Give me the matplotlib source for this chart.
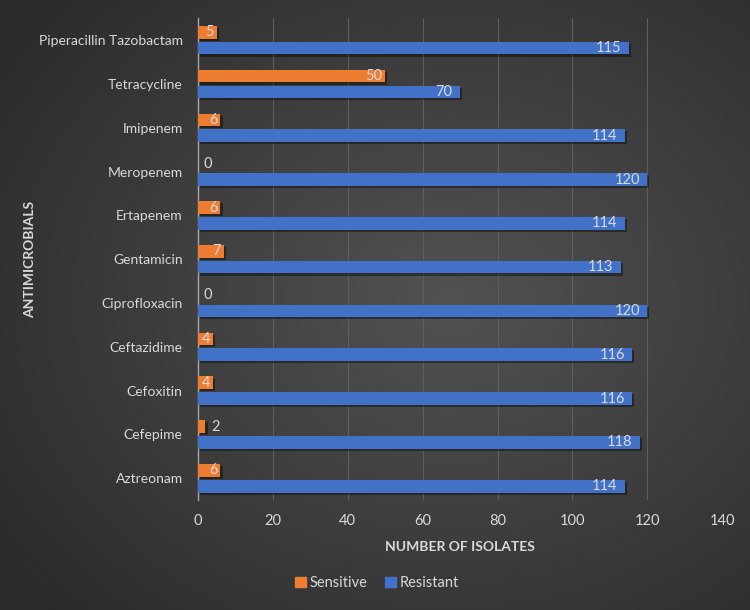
import numpy as np
import matplotlib
matplotlib.use("Agg")
import matplotlib.pyplot as plt
from matplotlib import patheffects as pe
from matplotlib.patches import Patch

categories = ["Piperacillin Tazobactam", "Tetracycline", "Imipenem", "Meropenem",
              "Ertapenem", "Gentamicin", "Ciprofloxacin", "Ceftazidime",
              "Cefoxitin", "Cefepime", "Aztreonam"]
sensitive = [5, 50, 6, 0, 6, 7, 0, 4, 4, 2, 6]
resistant = [115, 70, 114, 120, 114, 113, 120, 116, 116, 118, 114]
xticks = [0, 20, 40, 60, 80, 100, 120, 140]

plt.rcParams['font.family'] = ['Lato', 'DejaVu Sans']
txt = '#D9D9D9'
orange = '#ED7D31'
blue = '#4271C8'

fig = plt.figure(figsize=(7.5, 6.1), dpi=100)
# radial gradient background
bg = fig.add_axes([0, 0, 1, 1], zorder=-10)
yy, xx = np.mgrid[0:610, 0:750]
r = np.sqrt(((xx - 450) / 750.0) ** 2 + ((yy - 300) / 610.0) ** 2)
val = np.clip(1 - r / 0.75, 0, 1)
c0 = np.array([0x2a, 0x2a, 0x2a]) / 255
c1 = np.array([0x52, 0x52, 0x52]) / 255
img = c0[None, None, :] + (c1 - c0)[None, None, :] * val[:, :, None]
bg.imshow(img, aspect='auto', extent=[0, 1, 0, 1])
bg.axis('off')

ax = fig.add_axes([0.264, 0.180, 0.699, 0.790])
ax.set_facecolor('none')
n = len(categories)
ypos = np.arange(n)[::-1]
h = 0.29
off = h / 2 + 0.035
shadow = [pe.SimplePatchShadow(offset=(1.5, -1.5), shadow_rgbFace='black', alpha=0.4), pe.Normal()]
ax.barh(ypos + off, sensitive, height=h, color=orange, zorder=3, path_effects=shadow)
ax.barh(ypos - off, resistant, height=h, color=blue, zorder=3, path_effects=shadow)

for y, v in zip(ypos + off, sensitive):
    if v >= 4:
        ax.text(v - 0.8, y, str(v), ha='right', va='center', color=txt, fontsize=10.5, zorder=5)
    else:
        ax.text(v + 1.5, y, str(v), ha='left', va='center', color=txt, fontsize=10.5, zorder=5)
for y, v in zip(ypos - off, resistant):
    ax.text(v - 2, y, str(v), ha='right', va='center', color=txt, fontsize=10.5, zorder=5)

ax.set_xlim(0, 140)
ax.set_ylim(-0.5, n - 0.5)
ax.set_xticks(xticks)
ax.set_yticks(ypos)
ax.set_yticklabels(categories)
ax.tick_params(axis='both', length=0, colors=txt, labelsize=10)
ax.tick_params(axis='x', pad=10, labelsize=10.5)
ax.tick_params(axis='y', pad=11)
ax.grid(axis='x', color='#5e5e5e', linewidth=0.8, zorder=0)
for s in ['top', 'right', 'bottom']:
    ax.spines[s].set_visible(False)
ax.spines['left'].set_color('#a6a6a6')
ax.spines['left'].set_linewidth(1)
ax.set_xlabel('NUMBER OF ISOLATES', color=txt, fontsize=10, fontweight='bold', labelpad=9)
fig.text(0.040, 0.574, 'ANTIMICROBIALS', rotation=90, color=txt, fontsize=10,
         fontweight='bold', ha='center', va='center')

handles = [Patch(color=orange, label='Sensitive'), Patch(color=blue, label='Resistant')]
fig.legend(handles=handles, loc='center', bbox_to_anchor=(0.503, 0.044), ncol=2,
           frameon=False, labelcolor=txt, fontsize=10.5, handlelength=0.7, handleheight=0.7,
           handletextpad=0.3, columnspacing=1.2)

fig.savefig('out.png', dpi=100)
